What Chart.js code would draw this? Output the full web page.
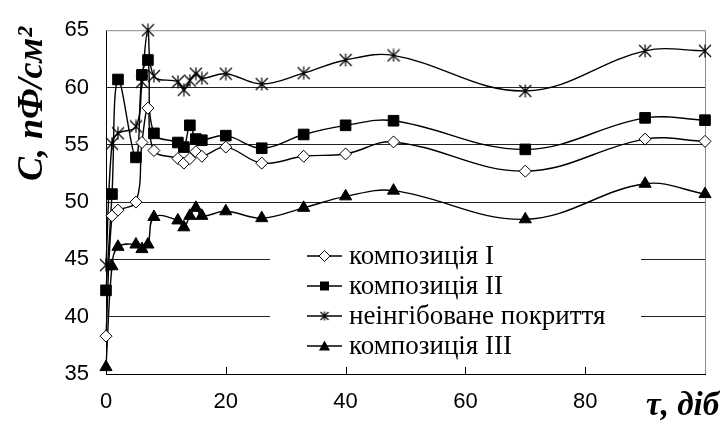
<!DOCTYPE html>
<html>
<head>
<meta charset="utf-8">
<script src="https://cdn.jsdelivr.net/npm/chart.js@4/dist/chart.umd.min.js"></script>
<style>
  html, body { margin: 0; padding: 0; background: #fff; }
  #wrap { position: relative; width: 720px; height: 427px; }
</style>
</head>
<body>
<div id="wrap"><canvas id="chart" width="720" height="427"></canvas></div>
<script>
// ===========================
// Data
// ===========================
const DAYS = [0, 1, 2, 5, 6, 7, 8, 12, 13, 14, 15, 16, 20, 26, 33, 40, 48, 70, 90, 100];
const COMP_1 = [38.3, 48.8, 49.3, 50.0, 55.2, 58.2, 54.5, 53.8, 53.4, 53.8, 54.4, 54.0, 54.8, 53.4, 54.0, 54.2, 55.25, 52.7, 55.5, 55.3];
const COMP_2 = [42.3, 50.7, 60.7, 53.9, 61.1, 62.4, 56.0, 55.2, 54.8, 56.7, 55.5, 55.4, 55.8, 54.7, 55.9, 56.7, 57.1, 54.6, 57.35, 57.15];
const UNINHIBITED = [44.5, 55.1, 56.0, 56.6, 60.5, 65.0, 61.0, 60.5, 59.8, 60.6, 61.2, 60.8, 61.2, 60.3, 61.25, 62.4, 62.8, 59.7, 63.2, 63.2];
const COMP_3 = [35.6, 44.4, 46.1, 46.3, 45.9, 46.3, 48.7, 48.4, 47.8, 48.8, 49.5, 48.8, 49.2, 48.6, 49.5, 50.5, 51.0, 48.5, 51.6, 50.7];

const SERIES_LABELS = ['композиція I', 'композиція II', 'неінгібоване покриття', 'композиція III'];
const Y_MIN = 35, Y_MAX = 65, Y_STEP = 5;
const X_MIN = 0, X_MAX = 100, X_STEP = 20;
const Y_TITLE = 'C, пФ/см²';
const X_TITLE = 'τ, діб';

const TICK_FONT = { family: "'Liberation Sans', Arial, sans-serif", size: 22 };
const SERIF = "'Liberation Serif', 'Times New Roman', serif";

// ===========================
// Star marker (asterisk: vertical bar + X)
// ===========================
function makeStar(size) {
  const c = document.createElement('canvas');
  c.width = size; c.height = size;
  const g = c.getContext('2d');
  const m = size / 2, e = size - 1;
  g.strokeStyle = '#000';
  g.lineWidth = 1.2;
  g.beginPath();
  g.moveTo(m, 0.5); g.lineTo(m, e + 0.5);
  g.moveTo(1, 1); g.lineTo(e, e);
  g.moveTo(e, 1); g.lineTo(1, e);
  g.stroke();
  return c;
}
const STAR = makeStar(14);
const STAR_SMALL = makeStar(10);

function toPoints(ys) { return DAYS.map((d, i) => ({ x: d, y: ys[i] })); }

const BASE = {
  borderColor: '#000',
  borderWidth: 1.4,
  tension: 0.38,
  clip: false,
  pointBorderColor: '#000',
  pointBorderWidth: 1
};

const datasets = [
  Object.assign({}, BASE, { label: SERIES_LABELS[0], data: toPoints(COMP_1), pointStyle: 'rectRot', pointRadius: 6, pointBackgroundColor: '#fff' }),
  Object.assign({}, BASE, { label: SERIES_LABELS[1], data: toPoints(COMP_2), pointStyle: 'rect', pointRadius: 7.5, pointBackgroundColor: '#000' }),
  Object.assign({}, BASE, { label: SERIES_LABELS[2], data: toPoints(UNINHIBITED), pointStyle: STAR, pointRadius: 7, pointBackgroundColor: '#000' }),
  Object.assign({}, BASE, { label: SERIES_LABELS[3], data: toPoints(COMP_3), pointStyle: 'triangle', pointRadius: 7, pointBackgroundColor: '#000' })
];

// ===========================
// Legend marker helper
// ===========================
function drawLegendMarker(ctx, style, x, y) {
  ctx.save();
  ctx.strokeStyle = '#000';
  ctx.lineWidth = 1;
  ctx.beginPath();
  if (style === 'rectRot') {
    const r = 5.5;
    ctx.moveTo(x, y - r); ctx.lineTo(x + r, y); ctx.lineTo(x, y + r); ctx.lineTo(x - r, y); ctx.closePath();
    ctx.fillStyle = '#fff'; ctx.fill(); ctx.stroke();
  } else if (style === 'rect') {
    const h = 4.5;
    ctx.rect(x - h, y - h, 2 * h, 2 * h);
    ctx.fillStyle = '#000'; ctx.fill();
  } else if (style === 'triangle') {
    const r = 5.5;
    ctx.moveTo(x, y - r); ctx.lineTo(x + r, y + r * 0.8); ctx.lineTo(x - r, y + r * 0.8); ctx.closePath();
    ctx.fillStyle = '#000'; ctx.fill();
  } else {
    ctx.drawImage(STAR_SMALL, x - 5, y - 5);
  }
  ctx.restore();
}

// ===========================
// Decorations plugin
// ===========================
const decor = {
  id: 'decor',
  beforeDatasetsDraw(chart) {
    const { ctx, chartArea: a, scales } = chart;
    ctx.save();
    // grey frame on top and right
    ctx.strokeStyle = '#8c8c8c';
    ctx.lineWidth = 1;
    ctx.beginPath();
    ctx.moveTo(a.left, a.top + 0.5); ctx.lineTo(a.right + 0.5, a.top + 0.5); ctx.lineTo(a.right + 0.5, a.bottom);
    ctx.stroke();
    // inside tick marks on x axis
    ctx.strokeStyle = '#000';
    ctx.beginPath();
    for (let v = X_MIN + X_STEP; v < X_MAX; v += X_STEP) {
      const px = Math.round(scales.x.getPixelForValue(v)) + 0.5;
      ctx.moveTo(px, a.bottom); ctx.lineTo(px, a.bottom - 7);
    }
    ctx.stroke();
    ctx.restore();
  },
  afterDatasetsDraw(chart) {
    const { ctx } = chart;
    ctx.save();
    // legend box
    ctx.fillStyle = '#fff';
    ctx.fillRect(270, 240, 371, 122);
    ctx.font = '27px ' + SERIF;
    ctx.textBaseline = 'middle';
    ctx.fillStyle = '#000';
    chart.data.datasets.forEach((ds, i) => {
      const y = 256 + i * 30;
      ctx.strokeStyle = '#000';
      ctx.lineWidth = 1.4;
      ctx.beginPath(); ctx.moveTo(307, y); ctx.lineTo(342, y); ctx.stroke();
      drawLegendMarker(ctx, typeof ds.pointStyle === 'string' ? ds.pointStyle : 'star', 324.5, y);
      ctx.fillText(ds.label, 349, y + 1);
    });
    // axis titles
    ctx.font = 'italic bold 36px ' + SERIF;
    ctx.textAlign = 'center';
    ctx.save();
    ctx.translate(42, 104);
    ctx.rotate(-Math.PI / 2);
    ctx.textBaseline = 'alphabetic';
    ctx.fillText(Y_TITLE, 0, 0);
    ctx.restore();
    ctx.font = 'italic bold 33px ' + SERIF;
    ctx.textAlign = 'left';
    ctx.textBaseline = 'alphabetic';
    ctx.fillText(X_TITLE, 646, 415);
    ctx.restore();
  }
};

// ===========================
// Chart
// ===========================
new Chart(document.getElementById('chart'), {
  type: 'line',
  data: { datasets },
  plugins: [decor],
  options: {
    responsive: false,
    animation: false,
    layout: { padding: { left: 0, right: 13, top: 20, bottom: 0 } },
    plugins: { legend: { display: false }, tooltip: { enabled: false } },
    scales: {
      x: {
        type: 'linear',
        min: X_MIN, max: X_MAX,
        afterFit(scale) { scale.height = 53; },
        ticks: {
          stepSize: X_STEP,
          color: '#000',
          font: TICK_FONT,
          padding: 15,
          maxRotation: 0,
          callback: v => (v >= X_MAX ? '' : v)
        },
        grid: { drawOnChartArea: false, drawTicks: false },
        border: { color: '#000', width: 1 }
      },
      y: {
        min: Y_MIN, max: Y_MAX,
        afterFit(scale) { scale.width = 106; },
        ticks: { stepSize: Y_STEP, color: '#000', font: TICK_FONT, padding: 17 },
        grid: {
          drawTicks: false,
          lineWidth: 1,
          color: c => (c.tick.value >= Y_MAX ? 'rgba(0,0,0,0)' : '#222')
        },
        border: { color: '#000', width: 1 }
      }
    }
  }
});
</script>
</body>
</html>
